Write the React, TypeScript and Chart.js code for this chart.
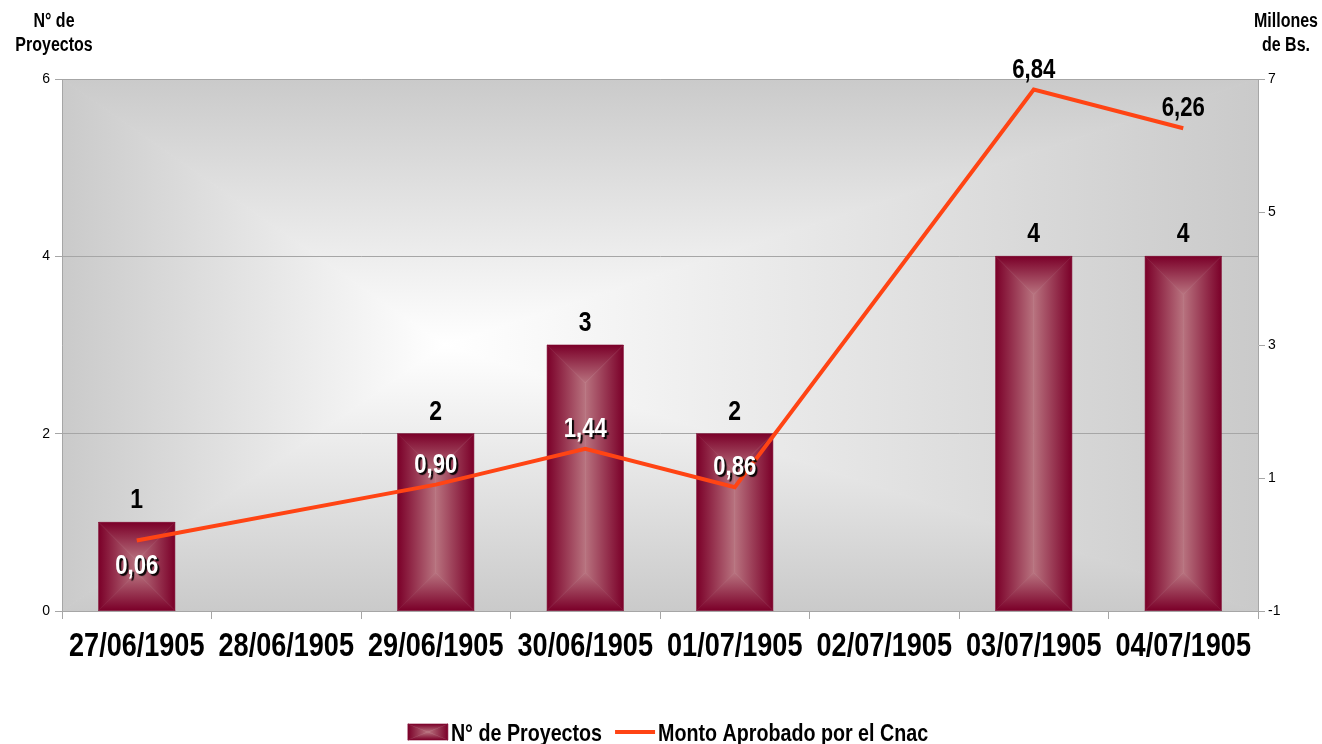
import React, { useEffect, useRef } from "react";
import { Chart, registerables } from "chart.js";

Chart.register(...registerables);

const categories = [
  "27/06/1905",
  "28/06/1905",
  "29/06/1905",
  "30/06/1905",
  "01/07/1905",
  "02/07/1905",
  "03/07/1905",
  "04/07/1905",
];
const projectCounts: (number | null)[] = [1, null, 2, 3, 2, null, 4, 4];
const approvedAmounts: (number | null)[] = [0.06, null, 0.9, 1.44, 0.86, null, 6.84, 6.26];
const leftTicks = [0, 2, 4, 6];
const rightTicks = [-1, 1, 3, 5, 7];
const seriesNames = ["N° de Proyectos", "Monto Aprobado por el Cnac"];
const leftTitle = ["N° de", "Proyectos"];
const rightTitle = ["Millones", "de Bs."];

const SANS = '"Liberation Sans", Arial, sans-serif';
const SX = 0.82; // horizontal condensing to mimic a narrow face
const BAR_EDGE = "#7b0029";
const BAR_MID = "#b8737f";
const LINE_COLOR = "#ff4414";

const fmt = (v: number) => v.toFixed(2).replace(".", ",");

function narrowText(
  ctx: CanvasRenderingContext2D,
  text: string,
  x: number,
  y: number,
  size: number,
  align: CanvasTextAlign,
  sx: number = SX
) {
  ctx.save();
  ctx.font = `bold ${size}px ${SANS}`;
  ctx.textAlign = align;
  ctx.textBaseline = "alphabetic";
  ctx.translate(x, y);
  ctx.scale(sx, 1);
  ctx.fillText(text, 0, 0);
  ctx.restore();
}

function narrowWidth(ctx: CanvasRenderingContext2D, text: string, size: number, sx: number = SX) {
  ctx.save();
  ctx.font = `bold ${size}px ${SANS}`;
  const w = ctx.measureText(text).width * sx;
  ctx.restore();
  return w;
}

function drawPyramid(ctx: CanvasRenderingContext2D, l: number, t: number, r: number, b: number) {
  const x = (l + r) / 2;
  const half = (r - l) / 2;
  const midY = (t + b) / 2;
  const it = Math.min(t + half, midY);
  const ib = Math.max(b - half, midY);
  const poly = (pts: number[][], g: CanvasGradient) => {
    ctx.beginPath();
    ctx.moveTo(pts[0][0], pts[0][1]);
    for (let i = 1; i < pts.length; i++) ctx.lineTo(pts[i][0], pts[i][1]);
    ctx.closePath();
    ctx.fillStyle = g;
    ctx.strokeStyle = g;
    ctx.lineWidth = 0.6;
    ctx.fill();
    ctx.stroke();
  };
  let g = ctx.createLinearGradient(l, 0, x, 0);
  g.addColorStop(0, BAR_EDGE);
  g.addColorStop(1, BAR_MID);
  poly([[l, t], [x, it], [x, ib], [l, b]], g);
  g = ctx.createLinearGradient(r, 0, x, 0);
  g.addColorStop(0, BAR_EDGE);
  g.addColorStop(1, BAR_MID);
  poly([[r, t], [x, it], [x, ib], [r, b]], g);
  g = ctx.createLinearGradient(0, t, 0, it);
  g.addColorStop(0, BAR_EDGE);
  g.addColorStop(1, BAR_MID);
  poly([[l, t], [r, t], [x, it]], g);
  g = ctx.createLinearGradient(0, b, 0, ib);
  g.addColorStop(0, BAR_EDGE);
  g.addColorStop(1, BAR_MID);
  poly([[l, b], [r, b], [x, ib]], g);
}

// rectangular "from centre" gradient for the plot area
const backgroundPlugin = {
  id: "plotBackground",
  beforeDraw(chart: any) {
    const { ctx, chartArea: a } = chart;
    const cx = a.left + (a.right - a.left) * 0.32;
    const cy = a.top + (a.bottom - a.top) * 0.5;
    const EDGE = "#cacaca";
    const CENTER = "#ffffff";
    ctx.save();
    const tri = (pts: number[][], g: CanvasGradient) => {
      ctx.beginPath();
      ctx.moveTo(pts[0][0], pts[0][1]);
      for (let i = 1; i < pts.length; i++) ctx.lineTo(pts[i][0], pts[i][1]);
      ctx.closePath();
      ctx.fillStyle = g;
      ctx.strokeStyle = g;
      ctx.lineWidth = 1;
      ctx.fill();
      ctx.stroke();
    };
    const mk = (x0: number, y0: number, x1: number, y1: number) => {
      const g = ctx.createLinearGradient(x0, y0, x1, y1);
      g.addColorStop(0, EDGE);
      g.addColorStop(1, CENTER);
      return g;
    };
    ctx.beginPath();
    ctx.rect(a.left, a.top, a.right - a.left, a.bottom - a.top);
    ctx.clip();
    tri([[a.left, a.top], [a.right, a.top], [cx, cy]], mk(0, a.top, 0, cy));
    tri([[a.left, a.bottom], [a.right, a.bottom], [cx, cy]], mk(0, a.bottom, 0, cy));
    tri([[a.left, a.top], [a.left, a.bottom], [cx, cy]], mk(a.left, 0, cx, 0));
    tri([[a.right, a.top], [a.right, a.bottom], [cx, cy]], mk(a.right, 0, cx, 0));
    ctx.restore();
  },
};

const pyramidBarsPlugin = {
  id: "pyramidBars",
  afterDatasetDraw(chart: any, args: any) {
    if (args.index !== 0) return;
    const ctx = chart.ctx;
    const meta = chart.getDatasetMeta(0);
    ctx.save();
    meta.data.forEach((el: any, i: number) => {
      if (projectCounts[i] == null) return;
      const p = el.getProps(["x", "y", "base", "width"], true);
      drawPyramid(ctx, p.x - p.width / 2, Math.min(p.y, p.base), p.x + p.width / 2, Math.max(p.y, p.base));
    });
    ctx.restore();
  },
};

const labelsPlugin = {
  id: "valueLabels",
  afterDatasetsDraw(chart: any) {
    const ctx = chart.ctx;
    const barMeta = chart.getDatasetMeta(0);
    const lineMeta = chart.getDatasetMeta(1);
    ctx.save();
    ctx.fillStyle = "#000";
    barMeta.data.forEach((el: any, i: number) => {
      const v = projectCounts[i];
      if (v == null) return;
      narrowText(ctx, String(v), el.x, el.y - 14, 28, "center");
    });
    lineMeta.data.forEach((el: any, i: number) => {
      const v = approvedAmounts[i];
      if (v == null) return;
      const barEl = barMeta.data[i];
      const barTop = projectCounts[i] != null ? barEl.y : Infinity;
      let baseY = el.y - 12;
      if (baseY - 20 < barTop + 10 && el.y > barTop) baseY = el.y + 33;
      const centerY = baseY - 10;
      const inside = centerY > barTop;
      ctx.save();
      if (inside) {
        ctx.shadowColor = "rgba(0,0,0,0.95)";
        ctx.shadowOffsetX = 2;
        ctx.shadowOffsetY = 2;
        ctx.shadowBlur = 1;
        ctx.fillStyle = "#ffffff";
      } else {
        ctx.fillStyle = "#000000";
      }
      narrowText(ctx, fmt(v), el.x, baseY, 27, "center");
      ctx.restore();
    });
    ctx.restore();
  },
};

const textPlugin = {
  id: "titlesLegend",
  afterDraw(chart: any) {
    const ctx = chart.ctx;
    const a = chart.chartArea;
    const xs = chart.scales.x;
    ctx.save();
    ctx.fillStyle = "#000";
    // category labels
    categories.forEach((c, i) => {
      narrowText(ctx, c, xs.getPixelForTick(i), a.bottom + 45, 33, "center");
    });
    // axis titles
    leftTitle.forEach((s, i) => narrowText(ctx, s, 54, 27 + i * 24, 19.5, "center"));
    rightTitle.forEach((s, i) => narrowText(ctx, s, 1286, 27 + i * 24, 19.5, "center"));

    // legend
    const fs = 24;
    const lsx = 0.82;
    const w1 = narrowWidth(ctx, seriesNames[0], fs, lsx);
    const w2 = narrowWidth(ctx, seriesNames[1], fs, lsx);
    const sw = 40;
    const gapTxt = 3;
    const gapItems = 13;
    const total = sw + gapTxt + w1 + gapItems + sw + gapTxt + w2;
    let x = (a.left + a.right) / 2 + 8 - total / 2;
    const yMid = 732;
    drawPyramid(ctx, x, yMid - 8, x + sw, yMid + 8);
    ctx.fillStyle = "#000";
    narrowText(ctx, seriesNames[0], x + sw + gapTxt, 741, fs, "left", lsx);
    x += sw + gapTxt + w1 + gapItems;
    ctx.strokeStyle = LINE_COLOR;
    ctx.lineWidth = 4;
    ctx.beginPath();
    ctx.moveTo(x, yMid);
    ctx.lineTo(x + sw, yMid);
    ctx.stroke();
    narrowText(ctx, seriesNames[1], x + sw + gapTxt, 741, fs, "left", lsx);
    ctx.restore();
  },
};

export default function App() {
  const canvasRef = useRef<HTMLCanvasElement | null>(null);

  useEffect(() => {
    const canvas = canvasRef.current;
    if (!canvas) return;
    const chart = new Chart(canvas, {
      type: "bar",
      data: {
        labels: categories,
        datasets: [
          {
            type: "bar",
            label: seriesNames[0],
            data: projectCounts,
            yAxisID: "y",
            backgroundColor: "rgba(0,0,0,0)",
            barPercentage: 0.51,
            categoryPercentage: 1,
            order: 2,
          },
          {
            type: "line",
            label: seriesNames[1],
            data: approvedAmounts,
            yAxisID: "y1",
            borderColor: LINE_COLOR,
            borderWidth: 4,
            pointRadius: 0,
            spanGaps: true,
            tension: 0,
            order: 1,
          } as any,
        ],
      },
      options: {
        responsive: false,
        animation: false,
        devicePixelRatio: 1,
        layout: { padding: { left: 0, right: 0, top: 79, bottom: 78 } },
        plugins: {
          legend: { display: false },
          tooltip: { enabled: false },
        },
        scales: {
          x: {
            offset: true,
            grid: {
              offset: true,
              drawOnChartArea: false,
              tickLength: 8,
              color: "#a6a6a6",
            },
            border: { color: "#a6a6a6" },
            ticks: { display: false },
            afterFit: (s: any) => {
              s.height = 55;
            },
          },
          y: {
            position: "left",
            min: 0,
            max: 6,
            afterBuildTicks: (s: any) => {
              s.ticks = leftTicks.map((v) => ({ value: v }));
            },
            grid: { color: "#a6a6a6", tickLength: 7 },
            border: { color: "#a6a6a6" },
            ticks: {
              color: "#000",
              font: { family: SANS, size: 14 },
              padding: 5,
            },
            afterFit: (s: any) => {
              s.width = 62;
            },
          },
          y1: {
            position: "right",
            min: -1,
            max: 7,
            afterBuildTicks: (s: any) => {
              s.ticks = rightTicks.map((v) => ({ value: v }));
            },
            grid: { drawOnChartArea: false, color: "#a6a6a6", tickLength: 7 },
            border: { color: "#a6a6a6" },
            ticks: {
              color: "#000",
              font: { family: SANS, size: 14 },
              padding: 3,
            },
            afterFit: (s: any) => {
              s.width = 64;
            },
          },
        },
      } as any,
      plugins: [backgroundPlugin, pyramidBarsPlugin, labelsPlugin, textPlugin],
    });
    return () => chart.destroy();
  }, []);

  return (
    <div style={{ position: "fixed", left: 0, top: 0, width: 1322, height: 744, background: "#fff" }}>
      <canvas ref={canvasRef} width={1322} height={744} style={{ display: "block" }} />
    </div>
  );
}
